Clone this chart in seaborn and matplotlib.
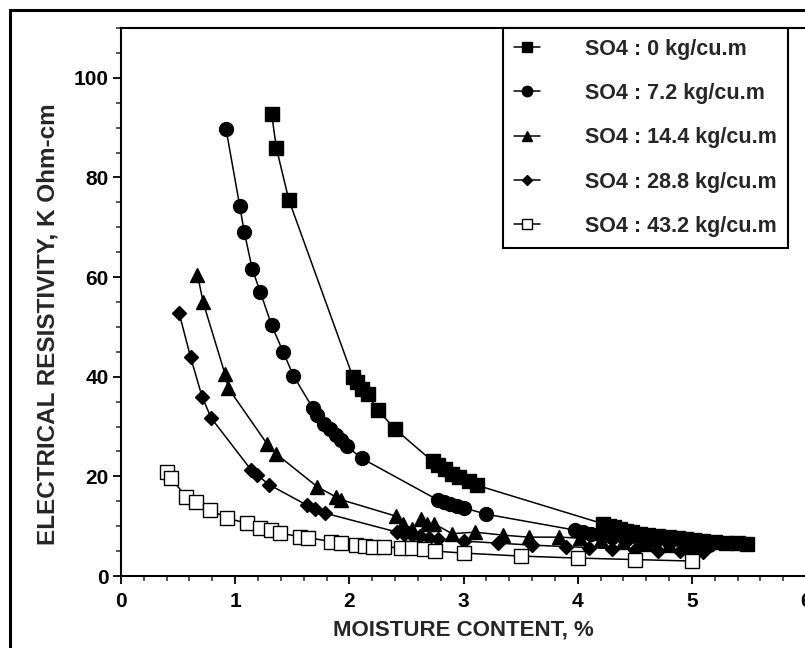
import matplotlib
matplotlib.use("Agg")
import matplotlib.pyplot as plt
import seaborn as sns
import pandas as pd
from matplotlib.patches import Rectangle
from matplotlib.ticker import MultipleLocator

sns.set_style("ticks")
plt.rcParams["font.family"] = ["Liberation Sans", "DejaVu Sans"]
plt.rcParams["font.weight"] = "bold"

# Sulfate dosage labels
labels = [
    "SO4 : 0 kg/cu.m",
    "SO4 : 7.2 kg/cu.m",
    "SO4 : 14.4 kg/cu.m",
    "SO4 : 28.8 kg/cu.m",
    "SO4 : 43.2 kg/cu.m",
]

# Moisture content (%) and resistivity (K Ohm-cm) per dosage
so4_0_x = [1.32, 1.36, 1.47, 2.03, 2.07, 2.11, 2.16, 2.25, 2.40, 2.73, 2.78, 2.84,
           2.90, 2.96, 3.05, 3.12, 4.22, 4.27, 4.32, 4.37, 4.42, 4.48, 4.55, 4.62,
           4.70, 4.80, 4.88, 4.95, 5.02, 5.10, 5.20, 5.30, 5.40, 5.48]
so4_0_y = [92.7, 86.0, 75.5, 40.0, 39.0, 37.5, 36.5, 33.3, 29.5, 23.0, 22.2, 21.5,
           20.5, 19.8, 19.0, 18.2, 10.5, 10.0, 9.8, 9.5, 9.0, 8.8, 8.5, 8.3,
           8.0, 7.8, 7.6, 7.5, 7.3, 7.0, 6.8, 6.7, 6.6, 6.5]

so4_72_x = [0.92, 1.04, 1.08, 1.15, 1.22, 1.32, 1.42, 1.51, 1.68, 1.72, 1.78, 1.83,
            1.88, 1.93, 1.98, 2.11, 2.78, 2.83, 2.88, 2.94, 3.00, 3.20, 3.98, 4.05,
            4.12, 4.20, 4.30, 4.42, 4.55, 4.68, 4.80, 4.92, 5.05, 5.15]
so4_72_y = [89.7, 74.3, 69.0, 61.6, 57.0, 50.3, 45.0, 40.2, 33.7, 32.3, 30.5, 29.5,
            28.3, 27.2, 26.0, 23.6, 15.2, 14.8, 14.5, 14.0, 13.7, 12.4, 9.2, 8.8,
            8.5, 8.2, 7.8, 7.5, 7.2, 7.0, 6.8, 6.6, 6.4, 6.2]

so4_144_x = [0.67, 0.72, 0.91, 0.94, 1.28, 1.36, 1.72, 1.88, 1.93, 2.41, 2.47, 2.55,
             2.63, 2.68, 2.74, 2.90, 3.10, 3.35, 3.57, 3.84, 4.02, 4.20, 4.40, 4.60,
             4.80, 5.00]
so4_144_y = [60.5, 54.9, 40.6, 37.7, 26.5, 24.5, 17.9, 15.9, 15.3, 12.0, 10.5, 9.5,
             11.5, 10.5, 10.5, 8.5, 8.8, 8.2, 7.8, 7.8, 7.6, 7.2, 6.8, 6.5,
             6.2, 6.0]

so4_288_x = [0.51, 0.61, 0.71, 0.79, 1.14, 1.19, 1.30, 1.63, 1.70, 1.79, 2.42, 2.48,
             2.55, 2.62, 2.70, 2.78, 3.00, 3.30, 3.60, 3.90, 4.10, 4.30, 4.50, 4.70,
             4.90, 5.10]
so4_288_y = [52.7, 43.9, 36.0, 31.7, 21.3, 20.3, 18.3, 14.2, 13.5, 12.6, 8.8, 8.5,
             8.2, 8.0, 7.7, 7.5, 7.0, 6.6, 6.2, 5.9, 5.7, 5.5, 5.3, 5.1,
             5.0, 4.9]

so4_432_x = [0.40, 0.44, 0.57, 0.66, 0.78, 0.93, 1.10, 1.22, 1.31, 1.39, 1.57, 1.64,
             1.84, 1.93, 2.06, 2.14, 2.21, 2.30, 2.45, 2.55, 2.65, 2.75, 3.00, 3.50,
             4.00, 4.50, 5.00]
so4_432_y = [20.9, 19.6, 15.9, 14.9, 13.3, 11.6, 10.6, 9.6, 9.3, 8.6, 7.9, 7.7,
             6.9, 6.6, 6.2, 6.0, 5.9, 5.8, 5.7, 5.6, 5.4, 5.0, 4.6, 4.0,
             3.6, 3.3, 3.0]

series_x = [so4_0_x, so4_72_x, so4_144_x, so4_288_x, so4_432_x]
series_y = [so4_0_y, so4_72_y, so4_144_y, so4_288_y, so4_432_y]

marker_styles = [
    dict(marker="s", markersize=9.5, markerfacecolor="black"),
    dict(marker="o", markersize=10, markerfacecolor="black"),
    dict(marker="^", markersize=10, markerfacecolor="black"),
    dict(marker="D", markersize=7, markerfacecolor="black"),
    dict(marker="s", markersize=9.5, markerfacecolor="white"),
]

fig = plt.figure(figsize=(8.05, 6.48), dpi=100)
ax = fig.add_axes([0.1503, 0.1111, 0.851, 0.8457])

for lab, xs, ys, st in zip(labels, series_x, series_y, marker_styles):
    df = pd.DataFrame({"moisture": xs, "resistivity": ys})
    sns.lineplot(data=df, x="moisture", y="resistivity", ax=ax, sort=False,
                 color="black", linewidth=1.1, markeredgecolor="black",
                 markeredgewidth=1.0, label=lab, **st)

ax.set_xlim(0, 6)
ax.set_ylim(0, 110)
ax.xaxis.set_major_locator(MultipleLocator(1))
ax.xaxis.set_minor_locator(MultipleLocator(0.2))
ax.yaxis.set_major_locator(MultipleLocator(20))
ax.yaxis.set_minor_locator(MultipleLocator(5))
ax.tick_params(axis="both", which="major", direction="out", length=5.5, width=1.3,
               labelsize=15, colors="black")
ax.tick_params(axis="x", which="major", pad=6)
ax.tick_params(axis="y", which="major", pad=3.5)
ax.tick_params(axis="both", which="minor", direction="out", length=3.5, width=1.1)
for t in ax.get_xticklabels() + ax.get_yticklabels():
    t.set_fontweight("bold")

for side in ["left", "bottom", "top", "right"]:
    ax.spines[side].set_visible(True)
    ax.spines[side].set_linewidth(1.5)
    ax.spines[side].set_color("black")

ax.set_xlabel("MOISTURE CONTENT, %", fontsize=16, fontweight="bold", labelpad=6)
ax.set_ylabel("ELECTRICAL RESISTIVITY, K Ohm-cm", fontsize=17.5, fontweight="bold")
ax.yaxis.set_label_coords(-0.09, 0.46)

handles = ax.get_lines()
leg = ax.legend(handles=list(handles), labels=labels, loc="upper left",
                bbox_to_anchor=(0.558, 1.0), borderaxespad=0, frameon=True,
                fancybox=False, edgecolor="black", framealpha=1,
                prop=dict(weight="bold", size=15.5), labelspacing=1.08,
                handlelength=1.2, handletextpad=2.1, markerscale=0.75,
                borderpad=0.5)
leg.get_frame().set_linewidth(1.5)

# outer frame around the figure
fig.patches.append(Rectangle((0.0124, -0.2), 1.5, 0.9846 + 0.2,
                             transform=fig.transFigure, fill=False,
                             linewidth=2.2, edgecolor="black"))

fig.savefig("out.png", dpi=100)
